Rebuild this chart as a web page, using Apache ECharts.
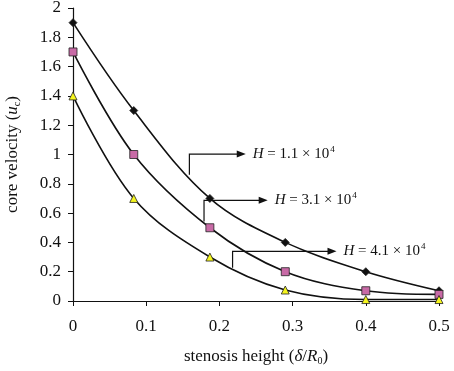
<!DOCTYPE html>
<html>
<head>
<meta charset="utf-8">
<script src="https://cdn.jsdelivr.net/npm/echarts@6/dist/echarts.min.js"></script>
<style>
  html, body { margin: 0; padding: 0; background: #fff; }
  #chart { width: 454px; height: 371px; }
</style>
</head>
<body>
<div id="chart"></div>
<script>
// stenosis height (δ/R0) at each sample
const heights = [0, 0.083, 0.187, 0.29, 0.4, 0.5];
// core velocity for each H
const h11 = [1.9, 1.3, 0.7, 0.4, 0.2, 0.07];
const h31 = [1.7, 1.0, 0.5, 0.2, 0.07, 0.045];
const h41 = [1.4, 0.7, 0.3, 0.075, 0.01, 0.01];
// callouts: [x of leader, y on curve, y of elbow, x of arrow tip] in data units
const calloutLabels = ['1.1', '3.1', '4.1'];
const calloutPaths = [
  [0.159, 0.862, 1.003, 0.236],
  [0.179, 0.543, 0.687, 0.266],
  [0.218, 0.227, 0.339, 0.360],
];

const font = '"Liberation Serif", "DejaVu Serif", serif';
const ink = '#111';
const pair = (ys) => heights.map((x, i) => [x, ys[i]]);

const chart = echarts.init(document.getElementById('chart'));

const lineSeries = (data, symbol, size, fill) => ({
  type: 'line',
  data: pair(data),
  smooth: 0.35,
  symbol,
  symbolSize: size,
  showAllSymbol: true,
  lineStyle: { color: ink, width: 1.6 },
  itemStyle: { color: fill, borderColor: '#222', borderWidth: 0.8 },
  z: 3,
});

const nameRich = {
  t: { fontFamily: font, fontSize: 17, color: ink },
  i: { fontFamily: font, fontSize: 17, fontStyle: 'italic', color: ink },
  s: { fontFamily: font, fontSize: 10, color: ink, padding: [9, 0, 0, 0] },
};

// elbow leader line with arrow head and "H = ... × 10^4" text
function renderCallout(params, api) {
  const p0 = api.coord([api.value(0), api.value(1)]);
  const p1 = api.coord([api.value(0), api.value(2)]);
  const p2 = api.coord([api.value(3), api.value(2)]);
  const tip = p2[0], ty = p2[1];
  const label = calloutLabels[params.dataIndex];
  return {
    type: 'group',
    children: [
      {
        type: 'polyline',
        shape: { points: [p0, p1, [tip - 6, ty]] },
        style: { stroke: ink, lineWidth: 1.2, fill: null },
      },
      {
        type: 'polygon',
        shape: { points: [[tip, ty], [tip - 9, ty - 3.5], [tip - 9, ty + 3.5]] },
        style: { fill: ink },
      },
      {
        type: 'text',
        x: tip + 7,
        y: ty,
        style: {
          text: '{i|H}{t| = ' + label + ' × 10}{s|4}',
          verticalAlign: 'middle',
          rich: {
            i: { fontFamily: font, fontSize: 15, fontStyle: 'italic', fill: ink },
            t: { fontFamily: font, fontSize: 15, fill: ink },
            s: { fontFamily: font, fontSize: 9, fill: ink, padding: [0, 0, 9, 1] },
          },
        },
      },
    ],
  };
}

chart.setOption({
  animation: false,
  grid: { left: 73, right: 15, top: 8, bottom: 70, outerBoundsMode: 'none' },
  xAxis: {
    type: 'value',
    min: 0, max: 0.5, interval: 0.1,
    name: '{t|stenosis height (}{i|δ}{t|/}{i|R}{s|0}{t|)}',
    nameLocation: 'middle',
    nameGap: 46,
    nameTextStyle: { rich: nameRich },
    axisLine: { lineStyle: { color: ink, width: 1.2 } },
    axisTick: { inside: false, length: 5, lineStyle: { color: ink } },
    axisLabel: { fontFamily: font, fontSize: 17, color: ink, margin: 17 },
    splitLine: { show: false },
  },
  yAxis: {
    type: 'value',
    min: 0, max: 2, interval: 0.2,
    name: '{t|core velocity (}{i|u}{s|c}{t|)}',
    nameLocation: 'middle',
    nameGap: 51,
    nameRotate: 90,
    nameTextStyle: { rich: nameRich },
    axisLine: { show: true, lineStyle: { color: ink, width: 1.2 } },
    axisTick: { show: true, inside: false, length: 5, lineStyle: { color: ink } },
    axisLabel: { fontFamily: font, fontSize: 17, color: ink, margin: 12 },
    splitLine: { show: false },
  },
  series: [
    lineSeries(h11, 'diamond', 8, ink),
    lineSeries(h31, 'rect', 8, '#c86aa6'),
    lineSeries(h41, 'triangle', 8, '#f5f51e'),
    {
      type: 'custom',
      renderItem: renderCallout,
      data: calloutPaths,
      silent: true,
      clip: false,
      z: 4,
    },
  ],
});
</script>
</body>
</html>
